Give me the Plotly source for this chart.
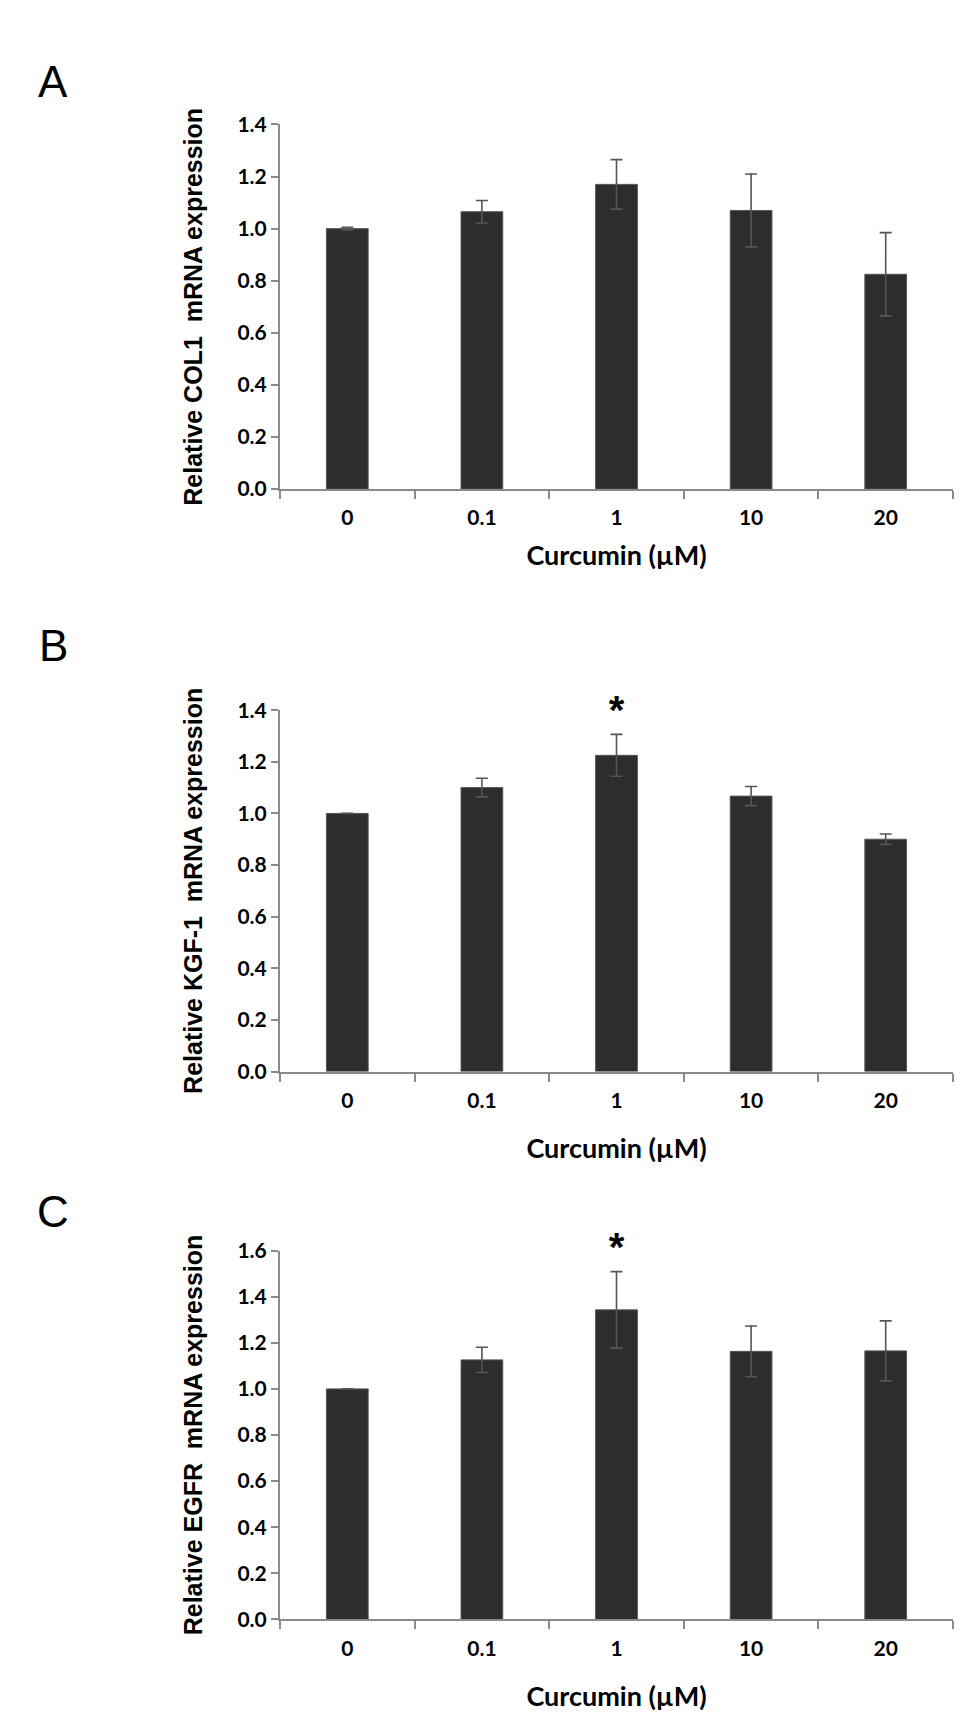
import plotly.graph_objects as go
from plotly.subplots import make_subplots

# Curcumin concentrations (x categories)
doses = ["0", "0.1", "1", "10", "20"]

# A - COL1
col1_mean = [1.00, 1.065, 1.17, 1.07, 0.825]
col1_err = [0.005, 0.043, 0.095, 0.14, 0.16]

# B - KGF-1
kgf_mean = [1.00, 1.10, 1.225, 1.067, 0.90]
kgf_err = [0.0, 0.036, 0.081, 0.037, 0.02]

# C - EGFR
egfr_mean = [1.00, 1.126, 1.343, 1.163, 1.165]
egfr_err = [0.0, 0.055, 0.166, 0.11, 0.13]

# significance marks: category and height of the asterisk
kgf_star_x = ["1"]
kgf_star_y = [1.385]
egfr_star_x = ["1"]
egfr_star_y = [1.60]

y_titles = [
    "Relative COL1\u00a0 mRNA expression",
    "Relative KGF-1\u00a0 mRNA expression",
    "Relative EGFR\u00a0 mRNA expression",
]
y_max = [1.4, 1.4, 1.6]
panel_letters = ["A", "B", "C"]

BAR_COLOR = "#2d2d2d"
AXIS_COLOR = "#8a8a8a"
ERR_COLOR = "#555555"
TICK_FONT = dict(family="Lato, 'Liberation Sans', sans-serif", size=21, color="black", weight="bold")
TITLE_FONT_X = dict(family="Lato, 'Liberation Sans', sans-serif", size=27, color="black", weight="bold")
TITLE_FONT_Y = dict(family="'Liberation Sans', Arial, sans-serif", size=25, color="black", weight="bold")
STAR_FONT = dict(family="'Liberation Sans', Arial, sans-serif", size=40, color="black", weight="bold")

fig = make_subplots(rows=3, cols=1)

for i, (mean, err) in enumerate([(col1_mean, col1_err), (kgf_mean, kgf_err), (egfr_mean, egfr_err)]):
    fig.add_trace(go.Bar(
        x=doses,
        y=mean,
        marker=dict(color=BAR_COLOR, line=dict(color="#555555", width=1)),
        error_y=dict(type="data", array=err, visible=True,
                     color=ERR_COLOR, thickness=1.6, width=6),
        showlegend=False,
    ), row=i + 1, col=1)

# asterisks as text marks (not clipped at the top of the axis)
for sx, sy, r in [(kgf_star_x, kgf_star_y, 2), (egfr_star_x, egfr_star_y, 3)]:
    fig.add_trace(go.Scatter(
        x=sx, y=sy, mode="text", text=["*"] * len(sx),
        textposition="middle center", textfont=STAR_FONT,
        cliponaxis=False, showlegend=False, hoverinfo="skip",
    ), row=r, col=1)

H = 1722.0
W = 980.0
y_domains = [
    [1 - 474 / H, 1 - 104 / H],
    [1 - 1065 / H, 1 - 698.3 / H],
    [1 - 1621 / H, 1 - 1246.7 / H],
]
x_domain = [272 / W, 945 / W]
x_standoff = [18, 28, 28]

for i in range(3):
    fig.update_xaxes(
        row=i + 1, col=1,
        type="category",
        domain=x_domain,
        range=[-0.5, 4.5],
        showline=True, linecolor=AXIS_COLOR, linewidth=2,
        ticks="outside", tickson="boundaries", ticklen=8, tickwidth=1.5, tickcolor=AXIS_COLOR,
        ticklabelstandoff=9,
        tickfont=TICK_FONT,
        showgrid=False, zeroline=False,
        title=dict(text="Curcumin (µM)", font=TITLE_FONT_X, standoff=x_standoff[i]),
    )
    fig.update_yaxes(
        row=i + 1, col=1,
        domain=y_domains[i],
        range=[0, y_max[i]],
        dtick=0.2, tickformat=".1f",
        showline=True, linecolor=AXIS_COLOR, linewidth=2,
        ticks="outside", ticklen=7, tickwidth=1.5, tickcolor=AXIS_COLOR,
        tickfont=TICK_FONT,
        showgrid=False, zeroline=False,
        title=dict(text=y_titles[i], font=TITLE_FONT_Y, standoff=28),
    )

# panel letters
letter_y = [1 - 60 / H, 1 - 633 / H, 1 - 1207 / H]
for letter, ly in zip(panel_letters, letter_y):
    fig.add_annotation(
        x=45 / W, y=ly, xref="paper", yref="paper",
        text=letter, showarrow=False, xanchor="center", yanchor="middle",
        font=dict(family="'Liberation Sans', Arial, sans-serif", size=44, color="black"),
    )

fig.update_layout(
    width=980, height=1722,
    margin=dict(l=0, r=0, t=0, b=0),
    paper_bgcolor="white", plot_bgcolor="white",
    bargap=0.69,
)

fig.write_html("out.html")
